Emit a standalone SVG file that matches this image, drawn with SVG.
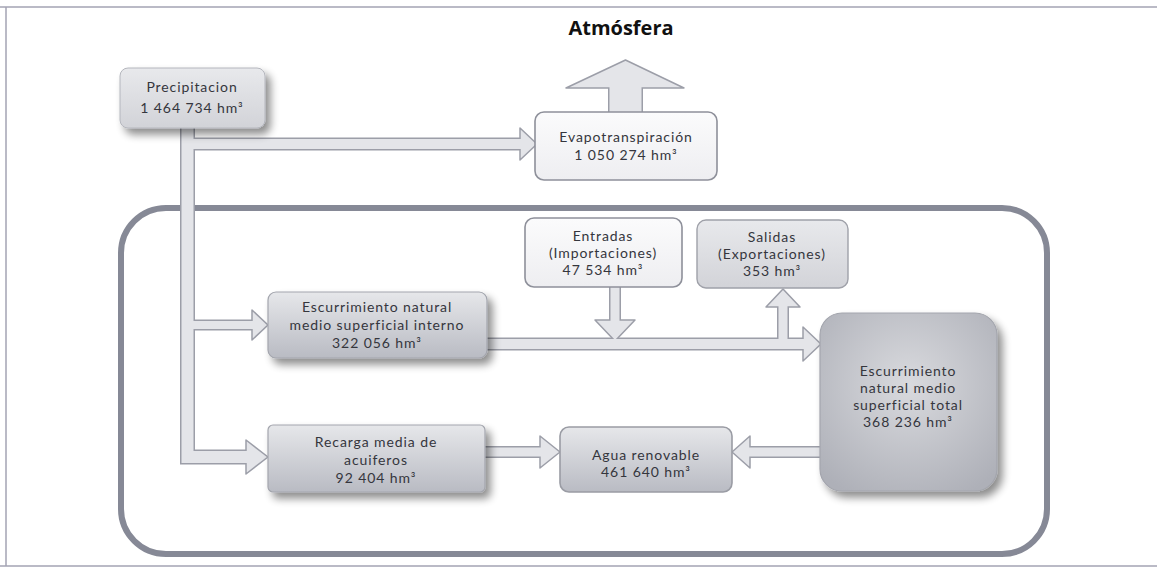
<svg xmlns="http://www.w3.org/2000/svg" width="1157" height="570" viewBox="0 0 1157 570">
<defs>
<linearGradient id="gBox" x1="0" y1="0" x2="0" y2="1">
<stop offset="0" stop-color="#e6e7ea"/><stop offset="1" stop-color="#b9bbc3"/>
</linearGradient>
<linearGradient id="gLight" x1="0" y1="0" x2="0" y2="1">
<stop offset="0" stop-color="#e8e9ec"/><stop offset="1" stop-color="#d2d3d8"/>
</linearGradient>
<linearGradient id="gWhite" x1="0" y1="0" x2="0" y2="1">
<stop offset="0" stop-color="#fbfbfc"/><stop offset="1" stop-color="#eeeef1"/>
</linearGradient>
<radialGradient id="gTotal" cx="0.5" cy="0.4" r="0.7">
<stop offset="0" stop-color="#d9dade"/><stop offset="1" stop-color="#aeb0b8"/>
</radialGradient>
<filter id="shadow" x="-20%" y="-20%" width="150%" height="160%">
<feGaussianBlur in="SourceAlpha" stdDeviation="4"/>
<feOffset dx="5" dy="6" result="b"/>
<feComponentTransfer><feFuncA type="linear" slope="0.45"/></feComponentTransfer>
<feMerge><feMergeNode/><feMergeNode in="SourceGraphic"/></feMerge>
</filter>
</defs>
<style>
.t{font-family:Lato,"Open Sans",sans-serif;font-size:14px;letter-spacing:0.9px;fill:#35363d;text-anchor:middle}
.title{font-family:"Open Sans","Noto Sans",sans-serif;font-size:20px;font-weight:bold;fill:#111;text-anchor:middle}
.box{fill:url(#gBox);stroke:#a3a5ad;stroke-width:1.2;filter:url(#shadow)}
.wbox{fill:url(#gWhite);stroke:#8e909a;stroke-width:1.6}
.tubeO{fill:none;stroke:#9c9ea8;stroke-linejoin:miter}
.tubeI{fill:none;stroke:#e4e5e9;stroke-linejoin:miter}
.head{fill:#e4e5e9;stroke:#9c9ea8;stroke-width:1.5;stroke-linejoin:round}
</style>

<g id="frame">
<path d="M0,7 H1157 M6,7 V566 M0,566 H1157" fill="none" stroke="#a4a4b4" stroke-width="1.5"/>
</g>

<g id="container">
<rect x="121" y="208" width="926" height="346" rx="45" fill="none" stroke="#868996" stroke-width="6"/>
</g>

<g id="atmosfera"><text class="title" x="621" y="35">Atmósfera</text></g>

<g id="connectors">
<path class="tubeO" d="M187.5,128 V457 H250" stroke-width="15"/>
<path class="tubeO" d="M187.5,144 H524" stroke-width="13"/>
<path class="tubeO" d="M187.5,325 H255" stroke-width="11"/>
<path class="tubeO" d="M487,344 H806" stroke-width="13"/>
<path class="tubeO" d="M615,287 V323" stroke-width="12"/>
<path class="tubeO" d="M783,344 V305" stroke-width="12"/>
<path class="tubeO" d="M485,452 H543" stroke-width="12"/>
<path class="tubeO" d="M820,452 H747" stroke-width="12"/>
<path class="tubeO" d="M625.5,113 V86" stroke-width="35"/>
<polygon class="head" points="520,128 537,144 520,160"/>
<polygon class="head" points="252,310 268,325 252,340"/>
<polygon class="head" points="246,440 268,457 246,474"/>
<polygon class="head" points="803,327 821,344 803,361"/>
<polygon class="head" points="595,320 615,341 635,320"/>
<polygon class="head" points="766,307 783,289 800,307"/>
<polygon class="head" points="540,436 560,452 540,468"/>
<polygon class="head" points="750,436 732,452 750,468"/>
<polygon class="head" points="566,88 625.5,60 684,88"/>
<path class="tubeI" d="M187.5,127 V457 H251" stroke-width="12"/>
<path class="tubeI" d="M187.5,144 H523" stroke-width="10"/>
<path class="tubeI" d="M187.5,325 H256" stroke-width="8"/>
<path class="tubeI" d="M486,344 H807" stroke-width="10"/>
<path class="tubeI" d="M615,286 V324" stroke-width="9"/>
<path class="tubeI" d="M783,340.5 V304" stroke-width="9"/>
<path class="tubeI" d="M484,452 H544" stroke-width="9"/>
<path class="tubeI" d="M821,452 H746" stroke-width="9"/>
<path class="tubeI" d="M625.5,114 V85" stroke-width="32"/>
</g>

<g id="precipitacion">
<rect x="120" y="68" width="145" height="60" rx="8" fill="url(#gLight)" stroke="#b4b6bd" stroke-width="1" filter="url(#shadow)"/>
<text class="t" x="192" y="92">Precipitacion</text>
<text class="t" x="192" y="113">1 464 734 hm³</text>
</g>

<g id="evapotranspiracion">
<rect class="wbox" x="535" y="112" width="182" height="68" rx="9"/>
<text class="t" x="626" y="142">Evapotranspiración</text>
<text class="t" x="626" y="160">1 050 274 hm³</text>
</g>

<g id="entradas">
<rect class="wbox" x="525" y="218" width="157" height="69" rx="9"/>
<text class="t" x="603" y="241">Entradas</text>
<text class="t" x="603" y="258">(Importaciones)</text>
<text class="t" x="603" y="275">47 534 hm³</text>
</g>

<g id="salidas">
<rect x="697" y="220" width="151" height="68" rx="9" fill="url(#gLight)" stroke="#9fa1a9" stroke-width="1.4"/>
<text class="t" x="772" y="242">Salidas</text>
<text class="t" x="772" y="259">(Exportaciones)</text>
<text class="t" x="772" y="276">353 hm³</text>
</g>

<g id="escurrimiento-interno">
<rect class="box" x="268" y="292" width="219" height="66" rx="8"/>
<text class="t" x="377" y="312">Escurrimiento natural</text>
<text class="t" x="377" y="330">medio superficial interno</text>
<text class="t" x="377" y="348">322 056 hm³</text>
</g>

<g id="escurrimiento-total">
<rect x="820" y="313" width="177" height="178" rx="22" fill="url(#gTotal)" stroke="#a3a5ad" stroke-width="1.2" filter="url(#shadow)"/>
<text class="t" x="908" y="376">Escurrimiento</text>
<text class="t" x="908" y="393">natural medio</text>
<text class="t" x="908" y="410">superficial total</text>
<text class="t" x="908" y="427">368 236 hm³</text>
</g>

<g id="recarga">
<rect class="box" x="268" y="425" width="217" height="67" rx="5"/>
<text class="t" x="376" y="447">Recarga media de</text>
<text class="t" x="376" y="465">acuiferos</text>
<text class="t" x="376" y="483">92 404 hm³</text>
</g>

<g id="agua-renovable">
<rect x="560" y="427" width="172" height="65" rx="9" fill="url(#gBox)" stroke="#9a9ca4" stroke-width="1.6"/>
<text class="t" x="646" y="460">Agua renovable</text>
<text class="t" x="646" y="477">461 640 hm³</text>
</g>
</svg>
